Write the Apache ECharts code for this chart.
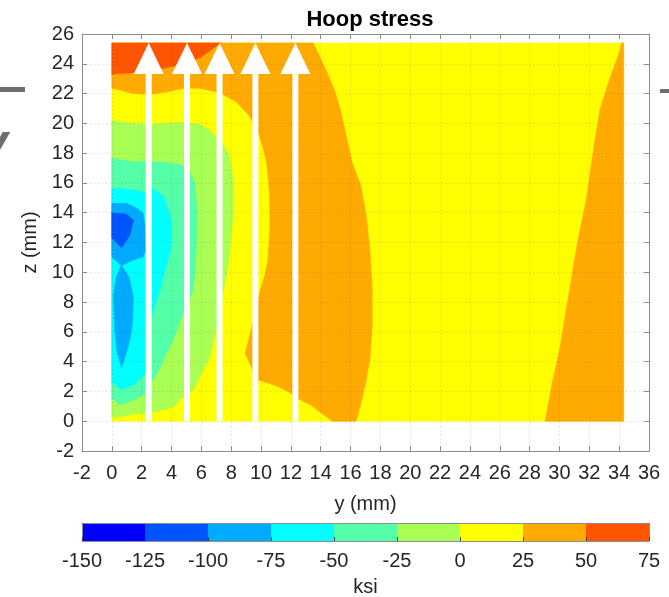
<!DOCTYPE html>
<html>
<head>
<meta charset="utf-8">
<title>Hoop stress</title>
<script src="https://cdn.jsdelivr.net/npm/echarts@6/dist/echarts.min.js"></script>
<style>
  html, body { margin: 0; padding: 0; background: #ffffff; }
  #chart { width: 669px; height: 597px; }
</style>
</head>
<body>
<div id="chart"></div>
<script>
// Hoop stress (ksi) over the y-z section, filled contours in 25 ksi bands.

// contour levels and the colour of each band [levels[i], levels[i+1])
const levels = [-150, -125, -100, -75, -50, -25, 0, 25, 50, 75];
const bandColors = ['#0000ff', '#0055ff', '#00aaff', '#00ffff', '#55ffaa',
                    '#aaff55', '#ffff00', '#ffaa00', '#ff5500'];

// extent of the measured field (mm)
const domainY = [0, 34.3];
const domainZ = [0, 25.4];

// contour regions as [y, z] outlines in mm

// stress >= 25 ksi : top band and the arc on the left half
const regionAbove25 = [
  [0, 25.4], [13.5, 25.4],
  [14.3, 23.7], [14.9, 22.3], [15.3, 21.0], [15.7, 19.2], [16.1, 17.4], [16.7, 15.8],
  [17.05, 13.8], [17.3, 11.5], [17.45, 9.0], [17.45, 6.5], [17.3, 4.2], [17.0, 2.5],
  [16.7, 1.2], [16.37, 0],
  [14.8, 0], [14.1, 0.5], [13.3, 1.1], [12.6, 1.45], [12.0, 1.87], [11.2, 2.3],
  [10.5, 2.55], [9.82, 2.75], [9.45, 3.4], [8.93, 4.56], [9.33, 6.1], [9.65, 7.6],
  [9.95, 8.8], [10.25, 9.8], [10.45, 10.8], [10.6, 13.1], [10.56, 15.3], [10.38, 17.3],
  [10.15, 18.3], [9.82, 19.4], [9.15, 20.6], [8.26, 21.5], [7.4, 21.95], [7.03, 22.1],
  [5.9, 22.36], [4.8, 22.36], [3.68, 22.1], [2.56, 21.95], [1.44, 22.0], [0, 22.36]
];

// stress >= 25 ksi : strip along the right edge
const regionAbove25Right = [
  [34.3, 25.4], [34.15, 25.4], [34.06, 24.9], [33.4, 23.1], [32.7, 20.9], [32.27, 18.2],
  [31.8, 14.9], [31.2, 12.0], [30.6, 8.4], [30.04, 5.0], [29.5, 2.5], [29.03, 0],
  [34.3, 0]
];

// stress >= 50 ksi
const regionAbove50 = [
  [0, 25.4], [7.3, 25.4], [6.6, 24.9], [5.9, 24.4], [4.8, 24.0], [3.5, 23.7],
  [1.4, 23.4], [0, 23.3]
];

// stress < 0 ksi
const regionBelow0 = [
  [0, 20.2], [1.44, 20.0], [2.56, 19.94], [3.68, 20.0], [4.8, 20.07], [5.9, 19.94],
  [6.58, 19.56], [7.03, 19.0], [7.5, 18.5], [7.9, 17.8], [8.1, 16.5], [8.15, 15.3],
  [8.15, 14.0], [8.0, 12.5], [7.8, 10.5], [7.5, 8.8], [7.1, 6.6], [6.58, 4.33],
  [5.9, 3.0], [5.46, 2.1], [5.0, 1.75], [4.57, 1.5], [4.2, 1.0], [3.68, 0.8],
  [2.78, 0.62], [2.2, 0.52], [1.44, 0.48], [0.55, 0.3], [0, 0.26]
];

// stress < -25 ksi
const regionBelowM25 = [
  [0, 17.66], [1.44, 17.43], [3.0, 17.43], [4.12, 17.32], [4.68, 17.2], [5.24, 16.75],
  [5.58, 15.9], [5.69, 14.3], [5.69, 12.0], [5.58, 10.15], [5.46, 8.8], [5.1, 7.9],
  [4.8, 7.3], [4.12, 5.5], [3.23, 3.6], [2.67, 2.6], [2.27, 1.87], [1.4, 1.4],
  [0.55, 1.09], [0, 1.54]
];

// stress < -50 ksi
const regionBelowM50 = [
  [0, 15.64], [1.44, 15.53], [2.27, 15.35], [2.67, 15.64], [3.45, 15.1], [3.79, 14.2],
  [4.01, 13.3], [4.0, 12.0], [3.9, 11.28], [3.57, 10.15], [3.23, 8.8], [2.9, 7.8],
  [2.67, 7.0], [2.45, 5.5], [2.27, 3.2], [1.44, 2.43], [0.66, 2.1], [0, 2.65]
];

// stress < -75 ksi
const regionBelowM75 = [
  [0, 14.63], [1.0, 14.63], [1.67, 14.3], [2.1, 13.96], [2.22, 13.06], [2.27, 11.5],
  [2.1, 11.05], [1.44, 10.83], [0.66, 10.45], [1.15, 9.7], [1.44, 8.4], [1.4, 7.0],
  [1.33, 6.1], [1.1, 5.0], [0.66, 3.6], [0.35, 4.6], [0.2, 6.1], [0.1, 8.4],
  [0.3, 9.7], [0.62, 10.45], [0, 11.05]
];

// stress < -100 ksi
const regionBelowM100 = [
  [0, 14.0], [1.0, 13.9], [1.44, 13.5], [1.22, 12.5], [0.66, 11.65], [0, 12.3]
];

// measurement paths (y positions, mm) running from the bottom to the top face
const arrowY = [2.47, 5.04, 7.22, 9.62, 12.3];
const arrowZ = [0, 25.4];

const domainRect = [
  [domainY[0], domainZ[0]], [domainY[1], domainZ[0]],
  [domainY[1], domainZ[1]], [domainY[0], domainZ[1]]
];

// painted in order, each layer over the previous one
const contourLayers = [
  { pts: domainRect, band: 6 },
  { pts: regionAbove25, band: 7 },
  { pts: regionAbove25Right, band: 7 },
  { pts: regionAbove50, band: 8 },
  { pts: regionBelow0, band: 5 },
  { pts: regionBelowM25, band: 4 },
  { pts: regionBelowM50, band: 3 },
  { pts: regionBelowM75, band: 2 },
  { pts: regionBelowM100, band: 1 }
];

const FONT = '"Liberation Sans", Arial, Helvetica, sans-serif';
const AXIS_COLOR = '#8c8c8c';
const TEXT_COLOR = '#262626';

const frameAxis = (extra) => Object.assign({
  type: 'value',
  z: 3,
  axisLine: { show: true, onZero: false, lineStyle: { color: AXIS_COLOR, width: 1 } },
  axisTick: { show: true, inside: true, length: 5, lineStyle: { color: AXIS_COLOR } },
  axisLabel: { show: false },
  splitLine: { show: false }
}, extra);

const tickLabel = (margin) => ({ show: true, fontSize: 20, color: TEXT_COLOR, fontFamily: FONT, margin: margin });
const gridLine = { show: true, lineStyle: { color: 'rgba(38,38,38,0.2)', width: 1, type: [1, 3] } };
const axisName = { fontSize: 20, color: TEXT_COLOR, fontFamily: FONT };

const chart = echarts.init(document.getElementById('chart'), null, { renderer: 'canvas' });

chart.setOption({
  animation: false,
  backgroundColor: '#ffffff',
  title: {
    text: 'Hoop stress',
    left: 365,
    top: 4,
    textAlign: 'center',
    textStyle: { fontSize: 22, fontWeight: 'bold', color: '#000000', fontFamily: FONT }
  },
  graphic: [
    { type: 'rect', shape: { x: 0, y: 87, width: 25, height: 5 }, style: { fill: '#6e6e6e' } },
    { type: 'rect', shape: { x: 660, y: 89, width: 9, height: 4 }, style: { fill: '#6e6e6e' } },
    { type: 'text', x: -21, y: 119, style: { text: 'v', font: 'italic bold 52px ' + FONT, fill: '#6e6e6e' } }
  ],
  grid: [
    { left: 82, top: 34, width: 567, height: 417, outerBoundsMode: 'none', containLabel: false },
    { left: 82, top: 523, width: 567, height: 18, outerBoundsMode: 'none', containLabel: false }
  ],
  xAxis: [
    frameAxis({
      gridIndex: 0, min: -2, max: 36, interval: 2, position: 'bottom',
      axisLabel: tickLabel(12), splitLine: gridLine,
      name: 'y (mm)', nameLocation: 'middle', nameGap: 43, nameTextStyle: axisName
    }),
    frameAxis({ gridIndex: 0, min: -2, max: 36, interval: 2, position: 'top' }),
    frameAxis({
      gridIndex: 1, min: levels[0], max: levels[levels.length - 1], interval: 25, position: 'bottom',
      axisTick: { show: true, inside: true, length: 4, lineStyle: { color: '#444444' } },
      axisLabel: tickLabel(10),
      name: 'ksi', nameLocation: 'middle', nameGap: 36, nameTextStyle: axisName
    }),
    frameAxis({
      gridIndex: 1, min: levels[0], max: levels[levels.length - 1], position: 'top',
      axisTick: { show: false }
    })
  ],
  yAxis: [
    frameAxis({
      gridIndex: 0, min: -2, max: 26, interval: 2, position: 'left',
      axisLabel: tickLabel(8), splitLine: gridLine,
      name: 'z (mm)', nameLocation: 'middle', nameGap: 38, nameTextStyle: axisName
    }),
    frameAxis({ gridIndex: 0, min: -2, max: 26, interval: 2, position: 'right' }),
    frameAxis({ gridIndex: 1, min: 0, max: 1, position: 'left', axisTick: { show: false } }),
    frameAxis({ gridIndex: 1, min: 0, max: 1, position: 'right', axisTick: { show: false } })
  ],
  series: [
    {
      type: 'custom',
      name: 'contours',
      xAxisIndex: 0,
      yAxisIndex: 0,
      z: 2,
      silent: true,
      data: contourLayers.map((l) => [l.pts[0][0], l.pts[0][1]]),
      renderItem: (params, api) => {
        const layer = contourLayers[params.dataIndex];
        return {
          type: 'polygon',
          shape: { points: layer.pts.map((p) => api.coord(p)) },
          style: { fill: bandColors[layer.band], stroke: bandColors[layer.band], lineWidth: 0.5 }
        };
      }
    },
    {
      type: 'custom',
      name: 'paths',
      xAxisIndex: 0,
      yAxisIndex: 0,
      z: 5,
      silent: true,
      data: arrowY.map((y) => [y, arrowZ[0], arrowZ[1]]),
      encode: { x: 0, y: [1, 2] },
      renderItem: (params, api) => {
        const base = api.coord([api.value(0), api.value(1)]);
        const tip = api.coord([api.value(0), api.value(2)]);
        const headH = 31, headW = 30, shaftW = 6;
        return {
          type: 'group',
          children: [
            {
              type: 'rect',
              shape: { x: base[0] - shaftW / 2, y: tip[1] + headH - 1, width: shaftW, height: base[1] - tip[1] - headH + 1 },
              style: { fill: '#ffffff' }
            },
            {
              type: 'polygon',
              shape: { points: [[tip[0] - headW / 2, tip[1] + headH], [tip[0] + headW / 2, tip[1] + headH], [tip[0], tip[1]]] },
              style: { fill: '#ffffff' }
            }
          ]
        };
      }
    },
    {
      type: 'custom',
      name: 'colorbar',
      xAxisIndex: 2,
      yAxisIndex: 2,
      z: 2,
      silent: true,
      data: bandColors.map((c, i) => [levels[i], levels[i + 1], 0, 1]),
      encode: { x: [0, 1], y: [2, 3] },
      renderItem: (params, api) => {
        const p0 = api.coord([api.value(0), api.value(2)]);
        const p1 = api.coord([api.value(1), api.value(3)]);
        return {
          type: 'rect',
          shape: { x: p0[0], y: p1[1], width: p1[0] - p0[0], height: p0[1] - p1[1] },
          style: { fill: bandColors[params.dataIndex] }
        };
      }
    }
  ]
});
</script>
</body>
</html>
